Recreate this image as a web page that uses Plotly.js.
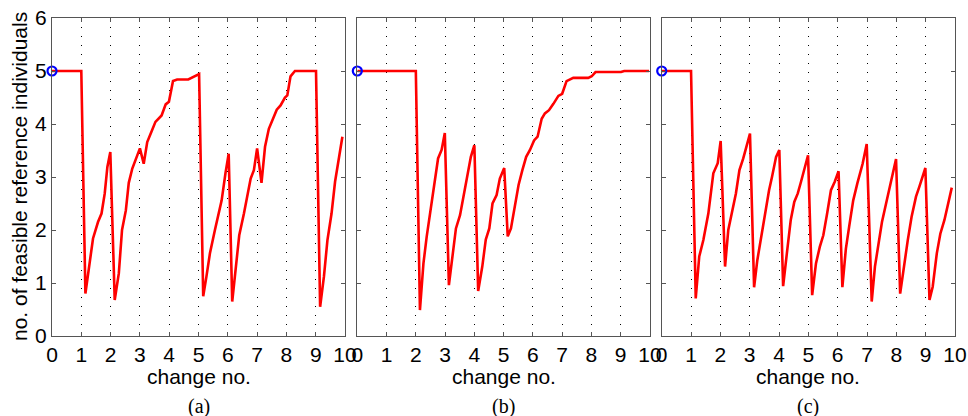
<!DOCTYPE html>
<html>
<head>
<meta charset="utf-8">
<script src="https://cdn.plot.ly/plotly-3.0.1.min.js"></script>
<style>html,body{margin:0;padding:0;background:#fff;}#chart{width:968px;height:416px;}</style>
</head>
<body>
<div id="chart"></div>
<script>
const xA = [0,1,1.14,1.40,1.57,1.69,1.80,1.89,1.99,2.14,2.28,2.39,2.52,2.62,2.74,2.88,3.0,3.13,3.25,3.39,3.53,3.74,3.88,3.99,4.13,4.27,4.65,5.02,5.16,5.27,5.39,5.56,5.79,5.92,6.03,6.15,6.28,6.39,6.55,6.67,6.78,6.89,7.0,7.15,7.27,7.40,7.52,7.67,7.80,7.95,8.03,8.14,8.29,9.01,9.15,9.28,9.40,9.54,9.66,9.91];
const yA = [5,5,0.80,1.84,2.15,2.31,2.69,3.19,3.47,0.68,1.18,2.0,2.37,2.89,3.16,3.35,3.54,3.25,3.66,3.85,4.04,4.16,4.37,4.42,4.81,4.84,4.84,4.94,0.75,1.12,1.56,2.0,2.56,3.07,3.44,0.65,1.31,1.90,2.31,2.69,2.97,3.13,3.54,2.89,3.57,3.91,4.06,4.27,4.35,4.50,4.54,4.90,5.0,5.0,0.55,1.12,1.81,2.31,2.91,3.76];
const xB = [0,2.0,2.14,2.26,2.37,2.51,2.63,2.76,2.88,2.99,3.13,3.25,3.37,3.51,3.62,3.74,3.88,4.0,4.13,4.27,4.39,4.51,4.62,4.76,4.87,5.02,5.14,5.25,5.39,5.51,5.64,5.77,5.90,6.04,6.16,6.30,6.41,6.55,6.70,6.87,7.0,7.15,7.38,7.55,7.89,8.01,8.14,9.01,9.12,9.97];
const yB = [5,5,0.49,1.37,1.87,2.41,2.88,3.35,3.51,3.83,0.96,1.56,2.03,2.28,2.63,2.94,3.38,3.60,0.85,1.31,1.82,2.03,2.50,2.66,2.97,3.17,1.88,2.03,2.50,2.85,3.13,3.38,3.51,3.69,3.76,4.10,4.20,4.26,4.38,4.53,4.57,4.81,4.87,4.87,4.87,4.90,4.98,4.98,5.0,5.0];
const xC = [0,1.0,1.16,1.28,1.42,1.59,1.76,1.91,2.01,2.16,2.27,2.39,2.53,2.65,2.78,3.01,3.15,3.26,3.39,3.52,3.66,3.76,3.90,4.01,4.14,4.28,4.40,4.52,4.64,4.75,4.99,5.13,5.26,5.39,5.51,5.64,5.77,5.90,6.03,6.16,6.28,6.39,6.53,6.67,6.85,6.99,7.16,7.27,7.40,7.51,7.65,7.82,7.99,8.13,8.24,8.39,8.52,8.67,8.78,8.99,9.13,9.24,9.38,9.50,9.64,9.89];
const yC = [5,5,0.71,1.50,1.81,2.31,3.07,3.26,3.68,1.31,2.0,2.31,2.69,3.13,3.35,3.82,0.92,1.43,1.87,2.28,2.75,3.0,3.38,3.51,0.94,1.62,2.19,2.53,2.69,2.91,3.41,0.77,1.37,1.68,1.90,2.31,2.75,2.91,3.11,0.92,1.65,2.06,2.56,2.88,3.25,3.62,0.65,1.31,1.75,2.15,2.50,2.91,3.34,0.80,1.24,1.81,2.25,2.63,2.81,3.17,0.68,0.93,1.56,1.93,2.19,2.80];
const xTicks = [0,1,2,3,4,5,6,7,8,9,10];
const yTicks = [0,1,2,3,4,5,6];
const startX = [0];
const startY = [5];
const panelLabels = ['(a)','(b)','(c)'];
const xTitle = 'change no.';
const yTitle = 'no. of feasible reference individuals';

const FONT = 'Liberation Sans, Arial, Helvetica, sans-serif';
const FS = 21;
const series = [[xA,yA],[xB,yB],[xC,yC]];
const doms = [[0,0.3245],[0.3381,0.6622],[0.6752,1]];
const traces = [];
series.forEach((s,i)=>{
  const sx = i===0?'':String(i+1);
  traces.push({x:s[0],y:s[1],xaxis:'x'+sx,yaxis:'y'+sx,mode:'lines',
    line:{color:'#ff0000',width:2.6},hoverinfo:'skip'});
  traces.push({x:startX,y:startY,xaxis:'x'+sx,yaxis:'y'+sx,mode:'markers',
    marker:{symbol:'circle-open',size:9,color:'#0000ff',line:{width:2.2,color:'#0000ff'}},cliponaxis:false});
});
const layout = {
  width:968,height:416,showlegend:false,
  margin:{l:52,r:13,t:18,b:80},
  paper_bgcolor:'#fff',plot_bgcolor:'#fff',
  font:{family:FONT,size:FS,color:'#000'},
  annotations:[]
};
doms.forEach((d,i)=>{
  const sx = i===0?'':String(i+1);
  layout['xaxis'+sx] = {domain:d,anchor:'y'+sx,range:[0,10],tickvals:xTicks,ticktext:xTicks.map(String),
    showgrid:true,gridcolor:'#000',gridwidth:1,griddash:'1px,8px',zeroline:false,
    showline:true,linecolor:'#555',linewidth:1,mirror:'ticks',ticks:'inside',ticklen:4,tickcolor:'#555',
    tickfont:{family:FONT,size:FS,color:'#000'},fixedrange:true};
  layout['yaxis'+sx] = {domain:[0,1],anchor:'x'+sx,range:[0,6],tickvals:yTicks,ticktext:yTicks.map(String),
    showgrid:false,zeroline:false,showticklabels:i===0,
    showline:true,linecolor:'#555',linewidth:1,mirror:'ticks',ticks:'inside',ticklen:4,tickcolor:'#555',
    tickfont:{family:FONT,size:FS,color:'#000'},fixedrange:true};
  const cx = (d[0]+d[1])/2;
  layout.annotations.push({text:xTitle,xref:'paper',yref:'paper',x:cx,y:-0.1258,xanchor:'center',yanchor:'middle',showarrow:false,font:{family:FONT,size:FS,color:'#000'}});
  layout.annotations.push({text:panelLabels[i],xref:'paper',yref:'paper',x:cx,y:-0.222,xanchor:'center',yanchor:'middle',showarrow:false,font:{family:'Liberation Serif, Times New Roman, serif',size:20,color:'#000'}});
});
layout.annotations.push({text:yTitle,xref:'paper',yref:'paper',x:-0.0365,y:0.5,xanchor:'center',yanchor:'middle',textangle:-90,showarrow:false,font:{family:FONT,size:FS,color:'#000'}});
Plotly.newPlot('chart',traces,layout,{displayModeBar:false,staticPlot:true});
</script>
</body>
</html>
